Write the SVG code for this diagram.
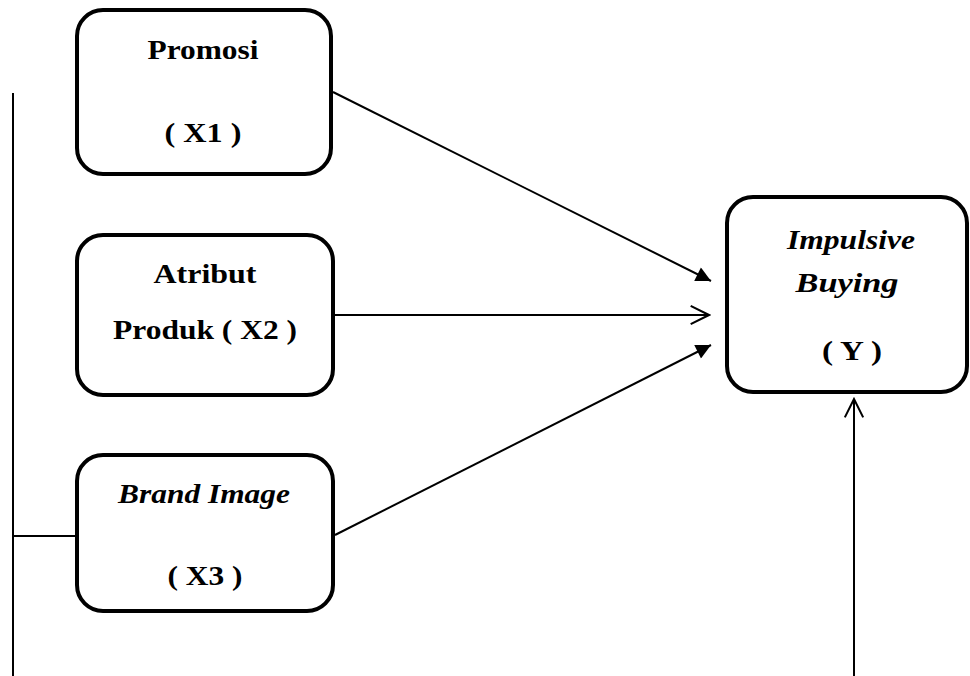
<svg xmlns="http://www.w3.org/2000/svg" width="970" height="676" viewBox="0 0 970 676">
<style>
.box{fill:#fff;stroke:#000;stroke-width:4}
.t{font-family:'Liberation Serif','Tinos','Times New Roman',Times,serif;font-weight:700;font-size:28px;fill:#000;text-anchor:middle}
.i{font-style:italic}
.ln{stroke:#000;stroke-width:2;fill:none}
</style>
<defs>
<marker id="fill" viewBox="0 0 10 10" refX="10" refY="5" markerWidth="17" markerHeight="15" markerUnits="userSpaceOnUse" orient="auto"><path d="M0,0 L10,5 L0,10 z" fill="#000"/></marker>
<marker id="open" viewBox="0 0 12 12" refX="11" refY="6" markerWidth="22" markerHeight="22" markerUnits="userSpaceOnUse" orient="auto"><path d="M1,1 L11,6 L1,11" fill="none" stroke="#000" stroke-width="1.1"/></marker>
</defs>
<rect width="970" height="676" fill="#fff"/>
<g id="connectors">
<line class="ln" x1="13" y1="93" x2="13" y2="676"/>
<line class="ln" x1="13" y1="536" x2="77" y2="536"/>
<line class="ln" x1="333" y1="92" x2="711" y2="281" marker-end="url(#fill)"/>
<line class="ln" x1="335" y1="315" x2="709" y2="315" marker-end="url(#open)"/>
<line class="ln" x1="335" y1="535" x2="711" y2="345" marker-end="url(#fill)"/>
<line class="ln" x1="854" y1="676" x2="854" y2="399" marker-end="url(#open)"/>
</g>
<g id="x1">
<rect class="box" x="77" y="10" width="254" height="164" rx="26"/>
<text class="t" x="203" y="59" textLength="111" lengthAdjust="spacingAndGlyphs">Promosi</text>
<text class="t" x="203" y="142" textLength="77" lengthAdjust="spacingAndGlyphs">( X1 )</text>
</g>
<g id="x2">
<rect class="box" x="77" y="235" width="256" height="160" rx="26"/>
<text class="t" x="205" y="283" textLength="103" lengthAdjust="spacingAndGlyphs">Atribut</text>
<text class="t" x="205" y="339" textLength="184" lengthAdjust="spacingAndGlyphs">Produk ( X2 )</text>
</g>
<g id="x3">
<rect class="box" x="77" y="455" width="256" height="156" rx="26"/>
<text class="t i" x="204" y="503" textLength="172" lengthAdjust="spacingAndGlyphs">Brand Image</text>
<text class="t" x="205" y="585" textLength="75" lengthAdjust="spacingAndGlyphs">( X3 )</text>
</g>
<g id="y">
<rect class="box" x="727" y="197" width="240" height="195" rx="26"/>
<text class="t i" x="851" y="249" textLength="128" lengthAdjust="spacingAndGlyphs">Impulsive</text>
<text class="t i" x="847" y="292" textLength="103" lengthAdjust="spacingAndGlyphs">Buying</text>
<text class="t" x="852" y="360" textLength="60" lengthAdjust="spacingAndGlyphs">( Y )</text>
</g>
</svg>
